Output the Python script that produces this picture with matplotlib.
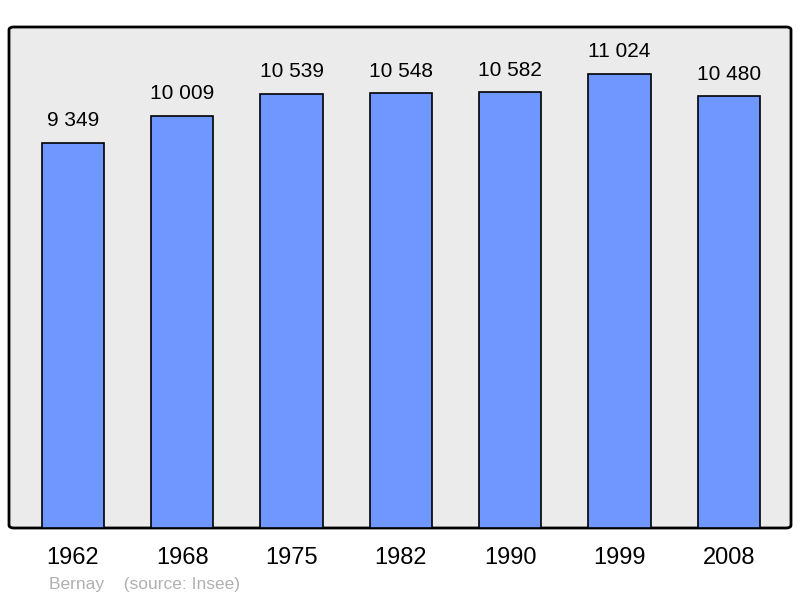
import matplotlib.pyplot as plt
from matplotlib.patches import FancyBboxPatch

plt.rcParams['font.family'] = ['Liberation Sans', 'DejaVu Sans']

# données
years = ["1962", "1968", "1975", "1982", "1990", "1999", "2008"]
population = [9349, 10009, 10539, 10548, 10582, 11024, 10480]
labels = ["9 349", "10 009", "10 539", "10 548", "10 582", "11 024", "10 480"]

fig = plt.figure(figsize=(8, 5.98), dpi=100)
ax = fig.add_axes([9 / 800, 70 / 598, 782 / 800, 501 / 598])
ax.set_facecolor("none")

# fond arrondi
frame = FancyBboxPatch((0, 0), 1, 1, boxstyle="round,pad=0,rounding_size=0.006",
                       transform=ax.transAxes, facecolor="#ebebeb",
                       edgecolor="black", linewidth=2, zorder=0, clip_on=False)
ax.add_patch(frame)

x = range(len(years))
ax.bar(x, population, width=0.57, color="#7097ff", edgecolor="black",
       linewidth=1.2, zorder=2)

for i, v in enumerate(population):
    ax.text(i, v + 300, labels[i], ha="center", va="bottom", fontsize=15)

ax.set_xlim(-0.585, 6.57)
ax.set_ylim(0, 12160)
for s in ax.spines.values():
    s.set_visible(False)
ax.set_yticks([])
ax.set_xticks(list(x))
ax.set_xticklabels(years, fontsize=17)
ax.tick_params(axis="x", length=0, pad=14)

fig.text(49 / 800, 1 - 584 / 598, "Bernay    (source: Insee)", color="#b0b0b0",
         fontsize=12.5, ha="left", va="center")

fig.savefig("out.png", dpi=100)
